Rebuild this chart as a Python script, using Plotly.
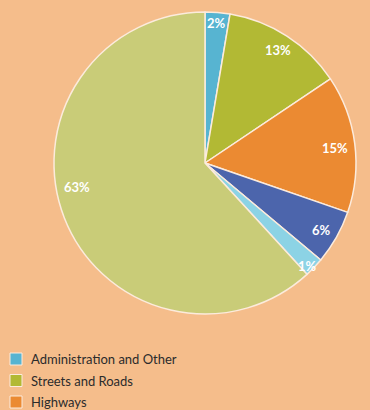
import math
import plotly.graph_objects as go

categories = ["Administration and Other", "Streets and Roads", "Highways",
              "Category 4", "Category 5", "Category 6"]
values = [2.65, 12.95, 14.7, 5.8, 2.1, 61.8]
pct_labels = ["2%", "13%", "15%", "6%", "1%", "63%"]
legend_items = ["Administration and Other", "Streets and Roads", "Highways"]

# styling
colors = ["#57B4D1", "#B2B934", "#EB8A32", "#4C65AC", "#8CD3E5", "#C9CC78"]
label_radius = [0.93, 0.89, 0.87, 0.89, 0.96, 0.86]      # fraction of pie radius
label_angle_shift = [0, 0, 0.7, 0.5, 1.3, 10.6]          # degrees

BG = "#F5BD8B"
W, H = 370, 410
CX, CY, R = 205, 163, 151   # pie centre / radius in px

fig = go.Figure()
fig.add_trace(go.Pie(
    labels=categories,
    values=values,
    textinfo="none",
    marker=dict(colors=colors, line=dict(color="#FCEBDC", width=1.5)),
    sort=False,
    direction="clockwise",
    rotation=0,
    showlegend=False,
    hoverinfo="label+percent",
    domain=dict(x=[(CX - R) / W, (CX + R) / W], y=[(H - CY - R) / H, (H - CY + R) / H]),
))

annotations = []
total = sum(values)
cum = 0.0
for v, txt, fr, sh in zip(values, pct_labels, label_radius, label_angle_shift):
    mid = (cum + v / 2) / total * 360 + sh
    cum += v
    th = math.radians(mid)
    px = CX + fr * R * math.sin(th)
    py = CY - fr * R * math.cos(th)
    annotations.append(dict(x=px / W, y=(H - py) / H, xref="paper", yref="paper",
                            text=txt, showarrow=False, xanchor="center", yanchor="middle",
                            font=dict(family="Lato", size=13, color="white", weight="bold")))

shapes = []
for i, name in enumerate(legend_items):
    yc = 359 + i * 21.5
    shapes.append(dict(type="rect", xref="paper", yref="paper",
                       x0=10 / W, x1=22 / W, y0=(H - yc - 6) / H, y1=(H - yc + 6) / H,
                       fillcolor=colors[i], line=dict(color="#FCEBDC", width=1)))
    annotations.append(dict(x=29 / W, y=(H - yc) / H, xref="paper", yref="paper",
                            text=name, showarrow=False, xanchor="left", yanchor="middle",
                            font=dict(family="Lato", size=13, color="#2B2B2B")))

fig.update_layout(
    width=W, height=H,
    margin=dict(l=0, r=0, t=0, b=0),
    paper_bgcolor=BG, plot_bgcolor=BG,
    shapes=shapes, annotations=annotations,
)
fig.write_html("out.html", config={"displayModeBar": False},
               post_script="document.body.style.margin='0';document.body.style.overflow='hidden';")
